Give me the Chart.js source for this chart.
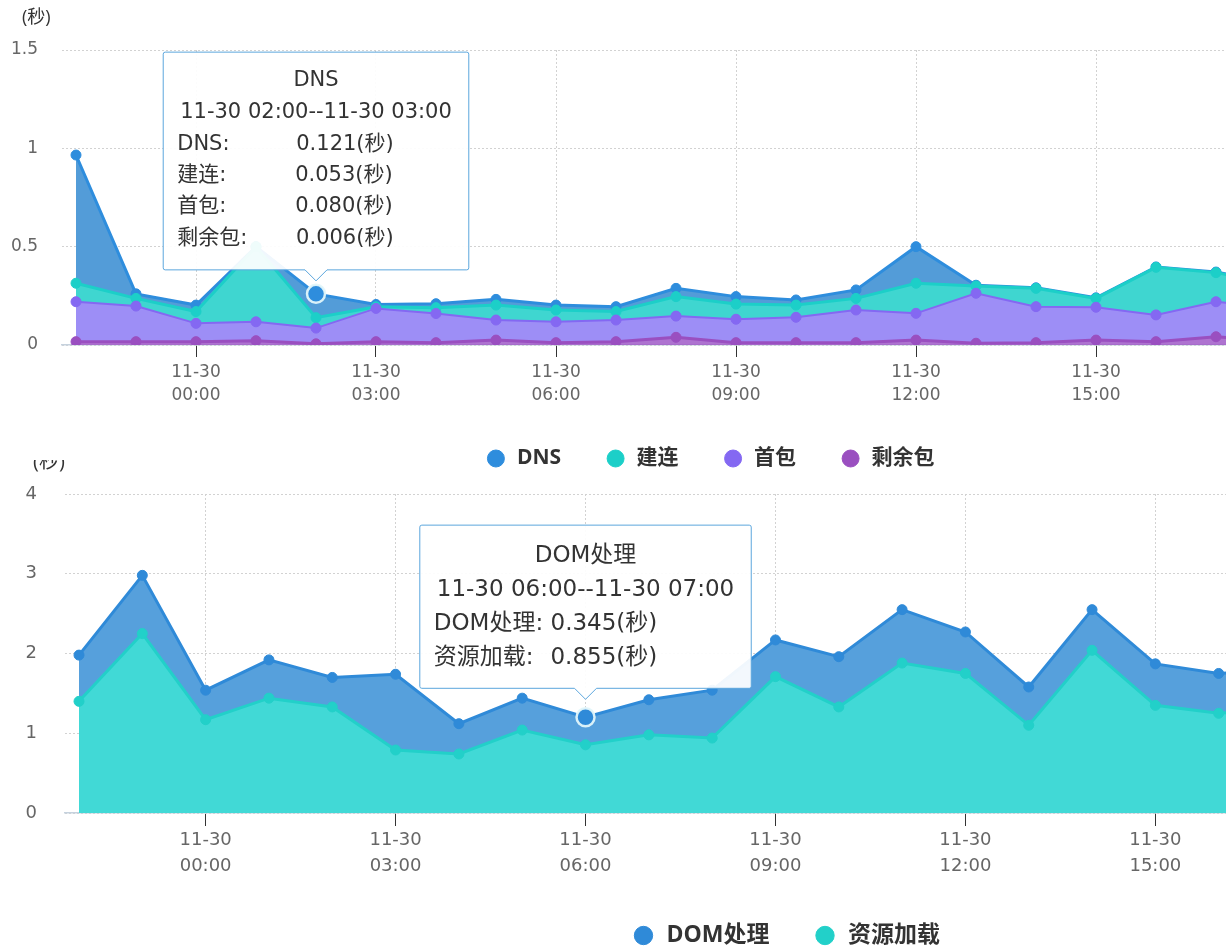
<!DOCTYPE html>
<html>
<head>
<meta charset="utf-8">
<script src="https://cdn.jsdelivr.net/npm/chart.js@4"></script>
<style>
  html, body { margin: 0; padding: 0; background: #fff; overflow: hidden; }
  #top { position: absolute; left: 0; top: 0; z-index: 2; }
  #bottomWrap { position: absolute; left: 0; top: 460px; width: 1320px; height: 500px; overflow: hidden; z-index: 1; }
  #bottom { position: absolute; left: 0; top: -20px; }
</style>
</head>
<body>
<canvas id="top" width="1320" height="479"></canvas>
<div id="bottomWrap"><canvas id="bottom" width="1320" height="517"></canvas></div>
<script>
const times = [
  '11-29 22:00', '11-29 23:00', '11-30 00:00', '11-30 01:00', '11-30 02:00', '11-30 03:00',
  '11-30 04:00', '11-30 05:00', '11-30 06:00', '11-30 07:00', '11-30 08:00', '11-30 09:00',
  '11-30 10:00', '11-30 11:00', '11-30 12:00', '11-30 13:00', '11-30 14:00', '11-30 15:00',
  '11-30 16:00', '11-30 17:00', '11-30 18:00'
];

// top chart (秒)
const dnsVals   = [0.652, 0.023, 0.033, 0.000, 0.121, 0.012, 0.020, 0.029, 0.025, 0.025, 0.042, 0.038, 0.026, 0.043, 0.186, 0.004, 0.003, 0.003, 0.002, 0.003, 0.003];
const connVals  = [0.094, 0.039, 0.060, 0.382, 0.053, 0.008, 0.030, 0.076, 0.060, 0.043, 0.099, 0.077, 0.062, 0.059, 0.153, 0.037, 0.093, 0.045, 0.242, 0.148, 0.120];
const firstVals = [0.203, 0.181, 0.093, 0.096, 0.080, 0.169, 0.148, 0.102, 0.106, 0.110, 0.108, 0.119, 0.129, 0.166, 0.136, 0.254, 0.183, 0.167, 0.136, 0.178, 0.170];
const restVals  = [0.017, 0.017, 0.017, 0.022, 0.006, 0.017, 0.012, 0.025, 0.012, 0.017, 0.039, 0.012, 0.012, 0.012, 0.025, 0.009, 0.012, 0.025, 0.017, 0.042, 0.020];

// bottom chart (秒)
const domVals  = [0.58, 0.73, 0.37, 0.48, 0.37, 0.95, 0.38, 0.40, 0.345, 0.44, 0.60, 0.46, 0.63, 0.67, 0.52, 0.48, 0.51, 0.52, 0.50, 0.50];
const loadVals = [1.40, 2.25, 1.17, 1.44, 1.33, 0.79, 0.74, 1.04, 0.855, 0.98, 0.94, 1.71, 1.33, 1.88, 1.75, 1.10, 2.04, 1.35, 1.25, 1.30];

const FONT = '"Open Sans", "Noto Sans CJK SC", sans-serif';
const WIDE = '"DejaVu Sans", "Noto Sans CJK SC", sans-serif';
Chart.defaults.font.family = FONT;
Chart.defaults.color = '#666';

function toHour(t) {
  const day = parseInt(t.slice(3, 5), 10);
  const h = parseInt(t.slice(6, 8), 10);
  return (day - 30) * 24 + h;
}
function pts(vals) {
  return vals.map((v, i) => ({x: toHour(times[i]), y: v}));
}
function hourLabel(v) {
  const day = 30 + Math.floor(v / 24);
  const h = ((v % 24) + 24) % 24;
  return ['11-' + day, String(h).padStart(2, '0') + ':00'];
}

// pad a tooltip row name so the value column lines up
const mctx = document.createElement('canvas').getContext('2d');
function padName(name, size, target) {
  mctx.font = size + 'px ' + WIDE;
  let s = name;
  while (mctx.measureText(s + '\u00a0').width <= target) s += '\u00a0';
  while (mctx.measureText(s + '\u200a').width <= target && s.length < 60) s += '\u200a';
  return s;
}

function series(label, vals, line, fill, width, fillMode) {
  return {
    label: label,
    data: pts(vals),
    borderColor: line,
    backgroundColor: fill,
    borderWidth: width,
    pointBackgroundColor: line,
    pointBorderColor: line,
    pointBorderWidth: 1,
    pointRadius: 5,
    pointHoverRadius: 9,
    pointHoverBorderWidth: 2.5,
    pointHoverBackgroundColor: line,
    pointHoverBorderColor: 'rgba(225,245,250,0.95)',
    fill: fillMode,
    tension: 0
  };
}

// small helper plugin: unit text above the y axis + legend offset
const decor = {
  id: 'decor',
  afterLayout(chart, args, opts) {
    chart.legend.left += opts.dx;
    chart.legend.right += opts.dx;
  },
  afterDraw(chart, args, opts) {
    const ctx = chart.ctx;
    ctx.save();
    ctx.font = opts.size + 'px ' + FONT;
    ctx.fillStyle = '#333';
    ctx.textBaseline = 'middle';
    ctx.fillText('(秒)', opts.x, opts.y);
    ctx.restore();
  }
};

function makeOptions(o) {
  return {
    responsive: false,
    animation: false,
    events: [],
    layout: {padding: {top: o.padTop, right: o.padRight, bottom: 0, left: 0}},
    scales: {
      x: {
        type: 'linear',
        min: toHour(times[0]) - o.lead,
        max: o.xMax,
        ticks: {
          stepSize: 3, includeBounds: false, autoSkip: false, maxRotation: 0,
          padding: o.tickPad, color: '#666',
          font: {family: WIDE, size: o.tickSize, lineHeight: o.tickLine},
          callback: v => hourLabel(v)
        },
        grid: {color: '#d2d2d2', lineWidth: 1, drawTicks: true, tickLength: o.tickLen, tickColor: '#333', tickWidth: 1},
        border: {display: true, color: '#c6d2de', width: 1.5, dash: [2, 2]},
        afterFit: a => { a.height = o.xHeight; }
      },
      y: {
        stacked: true,
        min: 0,
        max: o.yMax,
        ticks: {stepSize: o.yStep, padding: o.yPad, color: '#666', font: {family: WIDE, size: o.tickSize}, callback: v => String(v)},
        grid: {color: '#d2d2d2', drawTicks: false},
        border: {display: false, dash: [2, 2]},
        afterFit: a => { a.width = o.yWidth; }
      }
    },
    plugins: {
      decor: {dx: o.legendDx, x: o.unitX, y: o.unitY, size: o.unitSize},
      legend: {
        position: 'bottom',
        reverse: true,
        labels: {
          usePointStyle: true, pointStyle: 'circle',
          boxWidth: o.legendSize, boxHeight: o.legendBox,
          padding: 44, color: '#333',
          font: {size: o.legendSize, weight: 'bold'}
        }
      },
      tooltip: {
        enabled: true,
        displayColors: false,
        backgroundColor: 'rgba(255,255,255,0.93)',
        borderColor: '#5ba6dd',
        borderWidth: 1,
        cornerRadius: 2,
        titleColor: '#333',
        bodyColor: '#333',
        titleAlign: 'center',
        titleFont: {family: WIDE, size: o.tipSize, weight: 'normal', lineHeight: o.tipLine},
        bodyFont: {family: WIDE, size: o.tipSize, lineHeight: o.tipLine},
        titleSpacing: 0,
        titleMarginBottom: o.tipGap,
        bodySpacing: 0,
        padding: o.tipPad,
        caretSize: 11,
        caretPadding: o.caretPad,
        xAlign: 'center',
        yAlign: 'bottom',
        callbacks: {
          title: items => {
            const i = items[0].dataIndex;
            return [items[0].dataset.label, times[i] + '--' + times[i + 1]];
          },
          label: item => {
            const i = item.dataIndex;
            return o.rows.map(r => padName(r[0] + ':', o.tipSize, o.valueCol) + r[1][i].toFixed(3) + '(秒)');
          }
        }
      }
    }
  };
}

const topChart = new Chart(document.getElementById('top'), {
  type: 'line',
  data: {
    datasets: [
      series('剩余包', restVals, '#9a4fc0', 'rgba(160,90,200,0.85)', 3, 'origin'),
      series('首包', firstVals, '#8468f2', '#9d8ef6', 2, '-1'),
      series('建连', connVals, '#1ccfc8', '#3fd6d0', 3, '-1'),
      series('DNS', dnsVals, '#2e8ddd', '#539cd8', 3, '-1')
    ]
  },
  options: makeOptions({
    padTop: 50, padRight: 44, lead: 14 / 60, xMax: 18,
    tickPad: 4, tickSize: 17, tickLine: 1.35, tickLen: 12, xHeight: 59,
    yMax: 1.5, yStep: 0.5, yPad: 24, yWidth: 62,
    legendDx: 72, legendSize: 21, legendBox: 12,
    unitX: 22, unitY: 18, unitSize: 18,
    tipSize: 21, tipLine: 1.49, tipGap: 1,
    tipPad: {top: 13, right: 20, bottom: 16, left: 14}, caretPad: 13,
    valueCol: 120,
    rows: [['DNS', dnsVals], ['建连', connVals], ['首包', firstVals], ['剩余包', restVals]]
  }),
  plugins: [decor]
});

const bottomChart = new Chart(document.getElementById('bottom'), {
  type: 'line',
  data: {
    datasets: [
      series('资源加载', loadVals, '#22d0c9', '#41d9d6', 3, 'origin'),
      series('DOM处理', domVals, '#2f8ad8', '#56a0dc', 3, '-1')
    ]
  },
  options: makeOptions({
    padTop: 54, padRight: 38, lead: 14 / 63.33, xMax: 17,
    tickPad: 1, tickSize: 18, tickLine: 1.44, tickLen: 13, xHeight: 67,
    yMax: 4, yStep: 1, yPad: 28, yWidth: 65,
    legendDx: 145, legendSize: 23, legendBox: 13,
    unitX: 33, unitY: 22, unitSize: 20,
    tipSize: 23, tipLine: 1.48, tipGap: 0,
    tipPad: {top: 14, right: 20, bottom: 13, left: 14}, caretPad: 18,
    valueCol: 117,
    rows: [['DOM处理', domVals], ['资源加载', loadVals]]
  }),
  plugins: [decor]
});

function showTip(chart, datasetIndex, index) {
  const el = chart.getDatasetMeta(datasetIndex).data[index];
  chart.setActiveElements([{datasetIndex: datasetIndex, index: index}]);
  chart.tooltip.setActiveElements([{datasetIndex: datasetIndex, index: index}], {x: el.x, y: el.y});
  chart.update();
}
showTip(topChart, 3, 4);
showTip(bottomChart, 1, 8);
</script>
</body>
</html>
